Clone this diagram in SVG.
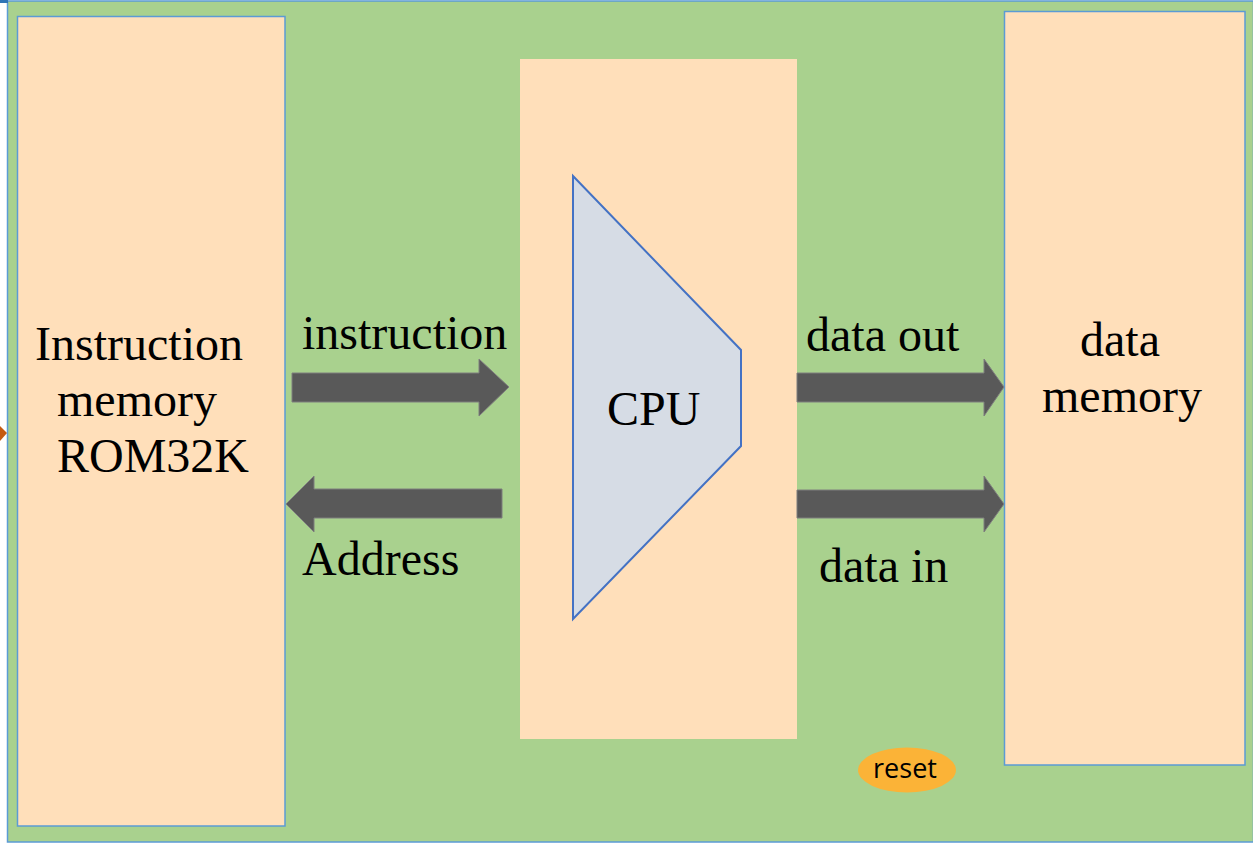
<svg xmlns="http://www.w3.org/2000/svg" width="1253" height="844" viewBox="0 0 1253 844">
  <style>
    .label { font-family: "Liberation Serif", "Times New Roman", serif; font-size: 48px; fill: #000; }
    .block { fill: #FFDFBA; }
    .bordered { stroke: #5B9BD5; stroke-width: 1.5; }
    .bus { fill: #595959; stroke: #7F7F7F; stroke-width: 1; }
  </style>
  <rect x="0" y="0" width="1253" height="844" fill="#FFFFFF"/>
  <!-- board -->
  <rect x="7.5" y="1" width="1246" height="841" fill="#A9D18E" stroke="#5B9BD5" stroke-width="1.5"/>
  <rect x="0" y="0" width="8" height="3" fill="#2E75B6"/>
  <!-- external input mark -->
  <polygon points="0,426 7,433 0,441" fill="#C55A11"/>

  <g id="instruction-memory">
    <rect class="block bordered" x="17.5" y="16.5" width="267.5" height="809.5"/>
    <text class="label" x="35" y="360">Instruction</text>
    <text class="label" x="57" y="416">memory</text>
    <text class="label" x="57" y="472">ROM32K</text>
  </g>

  <g id="cpu">
    <rect class="block" x="520" y="59" width="277" height="680"/>
    <polygon points="573,176 741,350 741,446 573,619" fill="#D6DCE5" stroke="#4472C4" stroke-width="2"/>
    <text class="label" x="607" y="425">CPU</text>
  </g>

  <g id="data-memory">
    <rect class="block bordered" x="1004.5" y="11.5" width="240.5" height="753.5"/>
    <text class="label" x="1080" y="356">data</text>
    <text class="label" x="1042" y="412">memory</text>
  </g>

  <g id="reset">
    <ellipse cx="907" cy="770" rx="49" ry="22.5" fill="#FBB337"/>
    <text x="905" y="778" text-anchor="middle" font-family="Open Sans, Liberation Sans, sans-serif" font-size="27" fill="#000">reset</text>
  </g>

  <g id="connectors">
    <polygon class="bus" points="292,373 479,373 479,359 509,387 479,416 479,402 292,402"/>
    <polygon class="bus" points="502,489 314,489 314,476 286,504 314,532 314,518 502,518"/>
    <polygon class="bus" points="797,373 984,373 984,359 1004,387 984,416 984,402 797,402"/>
    <polygon class="bus" points="797,490 984,490 984,476 1004,504 984,532 984,518 797,518"/>
    <text class="label" x="302" y="349">instruction</text>
    <text class="label" x="302" y="575">Address</text>
    <text class="label" x="806" y="351">data out</text>
    <text class="label" x="819" y="582">data in</text>
  </g>
</svg>
